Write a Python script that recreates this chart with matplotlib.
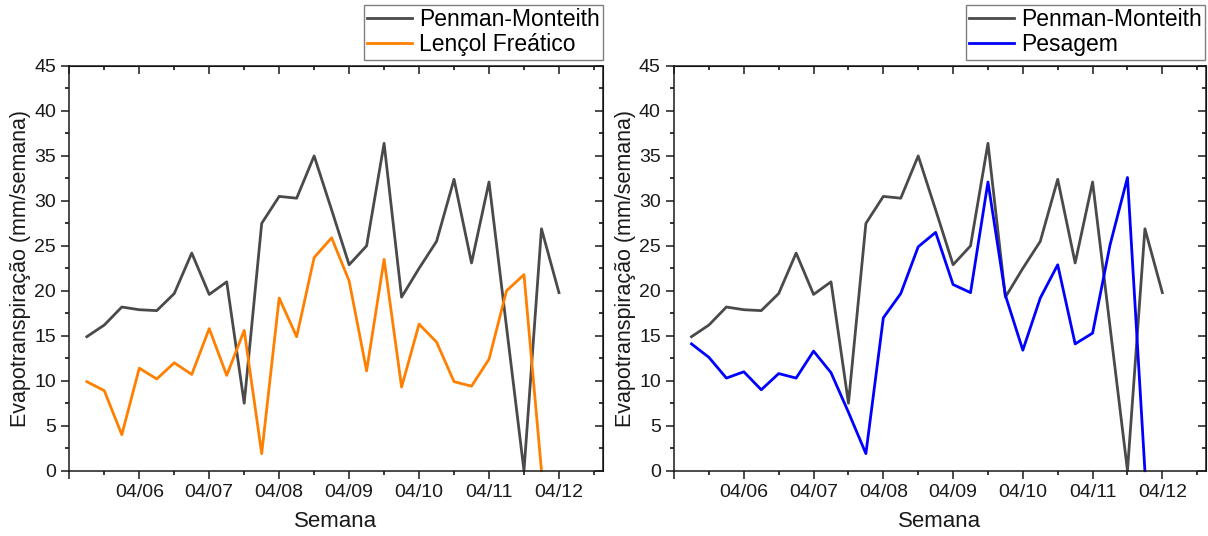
import matplotlib

matplotlib.use("Agg")
import matplotlib.pyplot as plt
import numpy as np

plt.rcParams["font.family"] = ["Liberation Sans", "DejaVu Sans"]

# weekly readings, week 4 = 04/06, week 28 = 04/12
semanas = np.arange(1, 29)
penman_monteith = [14.9, 16.2, 18.2, 17.9, 17.8, 19.7, 24.2, 19.6, 21.0, 7.5,
                   27.5, 30.5, 30.3, 35.0, 29.0, 22.9, 25.0, 36.4, 19.3, 22.5,
                   25.5, 32.4, 23.1, 32.1, 16.0, 0.0, 26.9, 19.8]
lencol_freatico = [9.9, 8.9, 4.0, 11.4, 10.2, 12.0, 10.7, 15.8, 10.6, 15.6,
                   1.9, 19.2, 14.9, 23.7, 25.9, 21.1, 11.1, 23.5, 9.3, 16.3,
                   14.3, 9.9, 9.4, 12.4, 20.0, 21.8, 0.0]
pesagem = [14.1, 12.6, 10.3, 11.0, 9.0, 10.8, 10.3, 13.3, 10.9, 6.5,
           1.9, 17.0, 19.7, 24.9, 26.5, 20.7, 19.8, 32.1, 19.5, 13.4,
           19.2, 22.9, 14.1, 15.3, 25.1, 32.6, 0.0]
mes_ticks = [0, 4, 8, 12, 16, 20, 24, 28]
mes_labels = ["", "04/06", "04/07", "04/08", "04/09", "04/10", "04/11", "04/12"]

GRAY = "#4a4a4a"
ORANGE = "#ff8000"
BLUE = "#0000ff"
INK = "#1a1a1a"

fig = plt.figure(figsize=(12.08, 5.36), dpi=100)
ax1 = fig.add_axes([0.0574, 0.1218, 0.4415, 0.7551])
ax2 = fig.add_axes([0.5580, 0.1218, 0.4403, 0.7551])


def style(ax):
    ax.set_xlim(0, 30.5)
    ax.set_ylim(0, 45)
    ax.set_xticks(mes_ticks)
    ax.set_xticklabels(mes_labels)
    ax.set_xticks(np.arange(2, 31, 4), minor=True)
    ax.set_yticks(np.arange(0, 46, 5))
    ax.set_yticks(np.arange(2.5, 45, 5), minor=True)
    ax.tick_params(which="major", direction="out", length=5.5, width=1.1,
                   labelsize=14, pad=4, colors=INK)
    ax.tick_params(which="minor", direction="out", length=2.6, width=1.1)
    for s in ax.spines.values():
        s.set_linewidth(1.1)
        s.set_color(INK)
    # mirrored ticks on top/right point into the plot
    top = ax.secondary_xaxis("top")
    top.set_xticks(mes_ticks)
    top.set_xticks(np.arange(2, 31, 4), minor=True)
    top.tick_params(which="major", direction="in", length=5.5, width=1.1,
                    labeltop=False, colors=INK)
    top.tick_params(which="minor", direction="in", length=2.6, width=1.1)
    right = ax.secondary_yaxis("right")
    right.set_yticks(np.arange(0, 46, 5))
    right.set_yticks(np.arange(2.5, 45, 5), minor=True)
    right.tick_params(which="major", direction="in", length=5.5, width=1.1,
                      labelright=False, colors=INK)
    right.tick_params(which="minor", direction="in", length=2.6, width=1.1)
    ax.set_xlabel("Semana", fontsize=16, labelpad=7, color=INK)
    ax.set_ylabel("Evapotranspiração (mm/semana)", fontsize=15.5,
                  labelpad=2, color=INK)


panels = [(ax1, lencol_freatico, "Lençol Freático", ORANGE, 603),
          (ax2, pesagem, "Pesagem", BLUE, 1205)]
for ax, serie, nome, cor, xr in panels:
    l1, = ax.plot(semanas, penman_monteith, color=GRAY, lw=2,
                  label="Penman-Monteith", clip_on=False)
    l2, = ax.plot(semanas[:len(serie)], serie, color=cor, lw=2,
                  label=nome, clip_on=False)
    style(ax)
    fig.legend(handles=[l1, l2], loc="upper right",
               bbox_to_anchor=(xr / 1208, 1 - 5 / 536), fontsize=16.5,
               frameon=True, fancybox=False, edgecolor="#7f7f7f",
               framealpha=1, borderpad=0.15, borderaxespad=0,
               handlelength=1.95, handletextpad=0.3, labelspacing=0.08)

fig.savefig("out.png", dpi=100)
